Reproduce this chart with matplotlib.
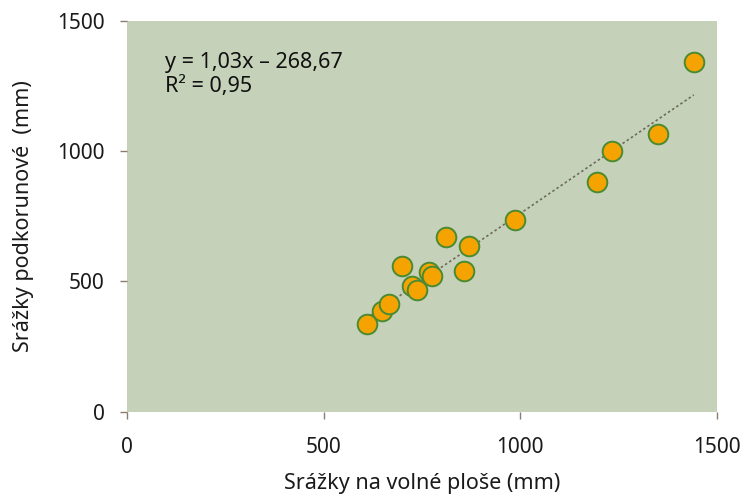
import numpy as np
import matplotlib
matplotlib.use("Agg")
import matplotlib.pyplot as plt

plt.rcParams['font.family'] = ['Noto Sans', 'DejaVu Sans']

# data (mm)
volna_plocha = [609, 648, 667, 700, 725, 738, 768, 775, 810, 857, 870, 986, 1196, 1233, 1349, 1441]
podkorunove = [338, 387, 414, 560, 483, 468, 537, 522, 672, 540, 637, 734, 880, 1001, 1065, 1343]
slope, intercept = 1.03, -268.67
ticks = [0, 500, 1000, 1500]

fig = plt.figure(figsize=(7.43, 4.95), dpi=100)
ax = fig.add_axes([0.171, 0.168, 0.794, 0.790])
ax.set_facecolor('#c5d2b9')
for s in ax.spines.values():
    s.set_visible(False)

# trend line
xs = np.array([min(volna_plocha), max(volna_plocha)])
ax.plot(xs, slope * xs + intercept, ls=(0, (1.5, 1.5)), color='#6e6a5e', lw=1.2, zorder=2)

ax.scatter(volna_plocha, podkorunove, s=200, facecolor='#f5a300', edgecolor='#4a8a32',
           linewidth=1.4, zorder=3)

ax.set_xlim(0, 1500)
ax.set_ylim(0, 1500)
ax.set_xticks(ticks)
ax.set_yticks(ticks)
ax.tick_params(length=5, width=1, color='#8c7b70', labelsize=15, labelcolor='#1a1a1a')
ax.tick_params(axis='y', pad=11)
ax.tick_params(axis='x', pad=13)

ax.text(0.065, 0.92, 'y = 1,03x \u2013 268,67\nR\u00b2 = 0,95', transform=ax.transAxes,
        fontsize=15.5, va='top', ha='left', color='#111111', linespacing=1.2)

ax.set_xlabel('Srážky na volné ploše (mm)', fontsize=15.5, color='#1a1a1a', labelpad=11)
ax.set_ylabel('Srážky podkorunové  (mm)', fontsize=15.5, color='#1a1a1a', labelpad=17)

fig.savefig('out.png', dpi=100, facecolor='white')
